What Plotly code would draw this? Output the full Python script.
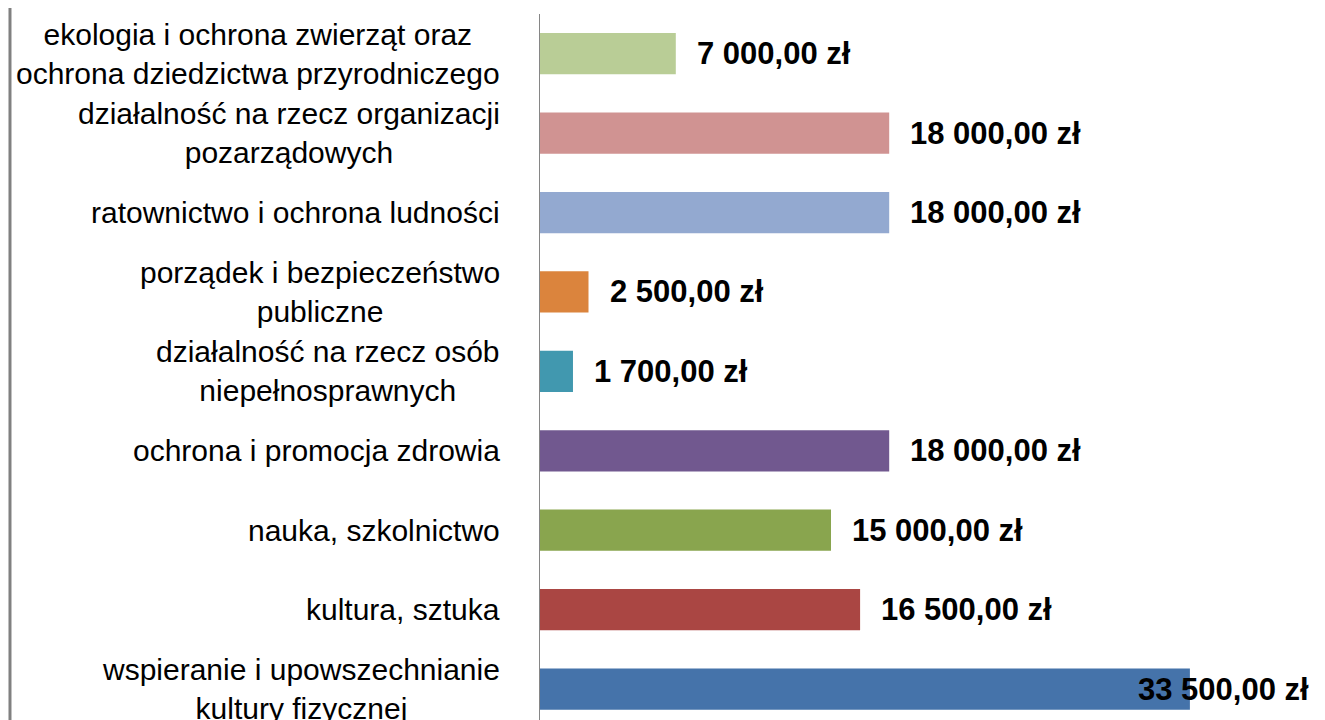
import plotly.graph_objects as go

categories = [
    "wspieranie i upowszechnianie<br>kultury fizycznej",
    "kultura, sztuka",
    "nauka, szkolnictwo",
    "ochrona i promocja zdrowia",
    "działalność na rzecz osób<br>niepełnosprawnych",
    "porządek i bezpieczeństwo<br>publiczne",
    "ratownictwo i ochrona ludności",
    "działalność na rzecz organizacji<br>pozarządowych",
    "ekologia i ochrona zwierząt oraz<br>ochrona dziedzictwa przyrodniczego",
]
values = [33500, 16500, 15000, 18000, 1700, 2500, 18000, 18000, 7000]
value_labels = [
    "33 500,00 zł", "16 500,00 zł", "15 000,00 zł", "18 000,00 zł",
    "1 700,00 zł", "2 500,00 zł", "18 000,00 zł", "18 000,00 zł", "7 000,00 zł",
]
colors = ["#4573AA", "#AA4643", "#89A54E", "#71588F", "#4198AF",
          "#DB843D", "#93A9D0", "#D09392", "#B9CD96"]

idx = list(range(len(categories)))

fig = go.Figure()
fig.add_trace(go.Bar(
    x=values, y=idx, orientation="h",
    marker=dict(color=colors, line=dict(width=0)),
    width=0.52, hoverinfo="skip",
))

annotations = []
for i, (v, lab) in enumerate(zip(values, value_labels)):
    last = (i == 0)
    annotations.append(dict(
        x=v, y=i, xref="x", yref="y", text="<b>" + lab + "</b>",
        showarrow=False, xanchor="left", yanchor="middle",
        xshift=-54 if last else 19,
        font=dict(family="Liberation Sans, Arial, sans-serif", size=31, color="#000000"),
    ))
for i, c in enumerate(categories):
    annotations.append(dict(
        x=0, y=i, xref="paper", yref="y", text=c, showarrow=False,
        xanchor="right", yanchor="middle", align="center", xshift=-38,
        font=dict(family="Liberation Sans, Arial, sans-serif", size=30, color="#000000"),
    ))

fig.update_layout(
    width=1317, height=712,
    margin=dict(l=532, r=9, t=6, b=0),
    paper_bgcolor="white", plot_bgcolor="white",
    showlegend=False,
    annotations=annotations,
    xaxis=dict(range=[0, 40000], showgrid=False, zeroline=False,
               showticklabels=False, ticks="", showline=False, fixedrange=True),
    yaxis=dict(range=[-0.39, 8.5], showgrid=False, zeroline=False,
               showticklabels=False, ticks="", showline=True,
               linecolor="#868686", linewidth=1, fixedrange=True),
    shapes=[dict(type="line", xref="paper", yref="paper",
                 x0=-0.683, x1=-0.683, y0=-0.05, y1=1.05,
                 line=dict(color="#808080", width=3))],
)

fig.write_html("out.html", config={"displayModeBar": False})
